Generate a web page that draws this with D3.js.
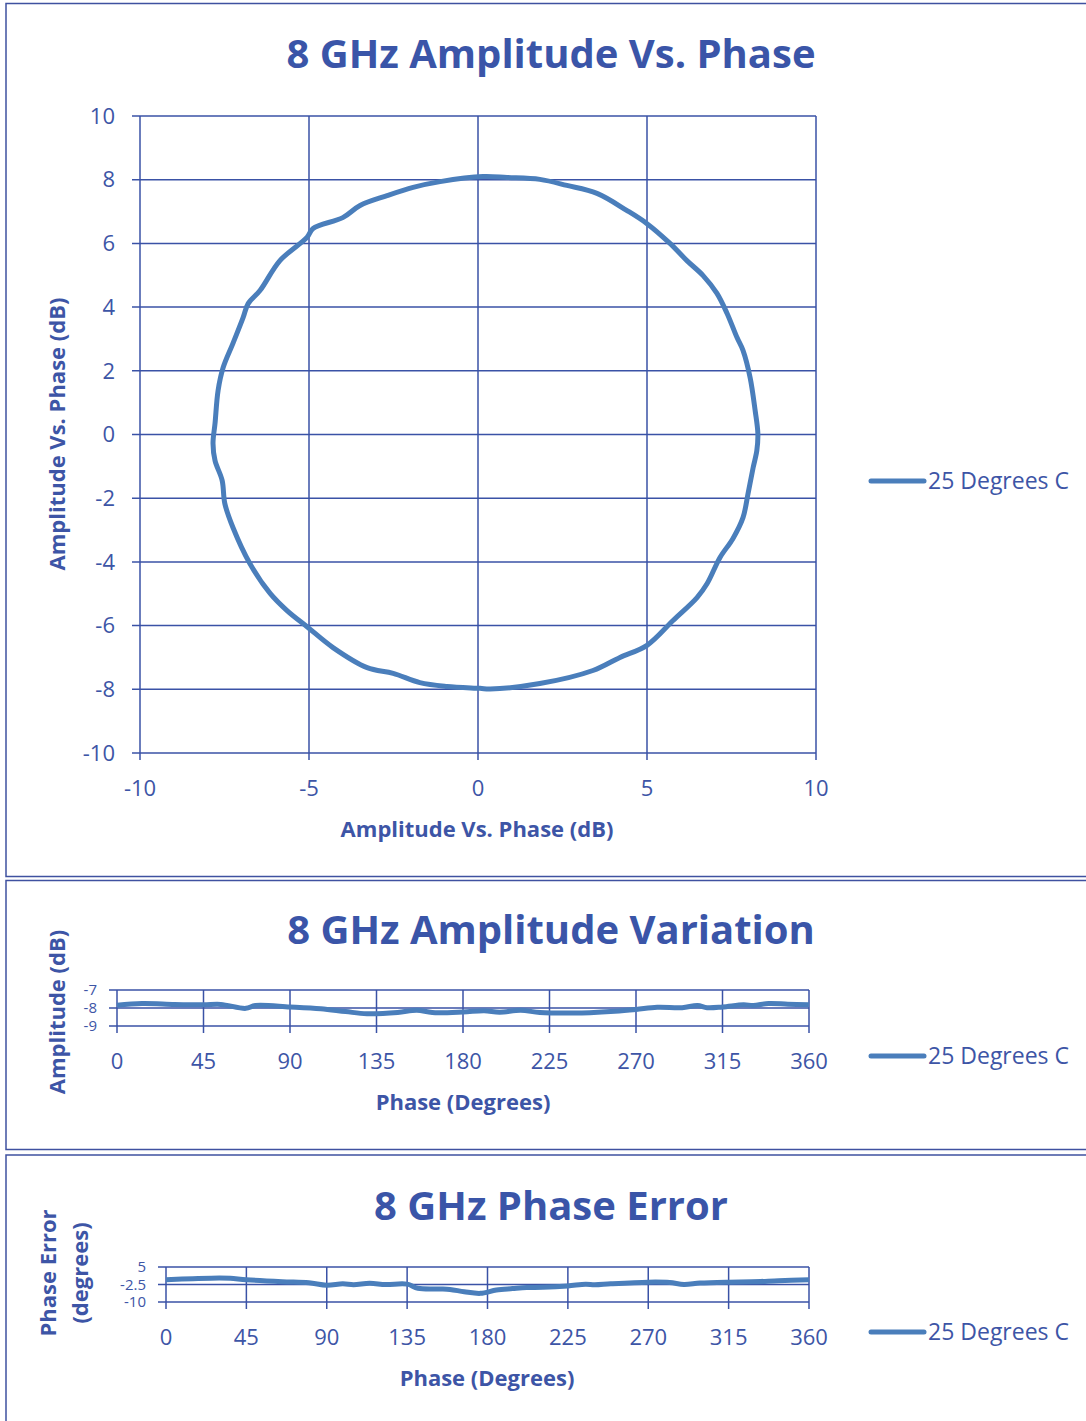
<!DOCTYPE html>
<html>
<head>
<meta charset="utf-8">
<script src="https://cdn.jsdelivr.net/npm/d3@7"></script>
<style>
  body { margin: 0; background: #fff; }
  svg { display: block; }
  text { font-family: "Open Sans", Lato, sans-serif; fill: #3d55a6; }
</style>
</head>
<body>
<div id="chart"></div>
<script>
// polar trace, x/y in dB, walked round from the right edge
const polarX = [8.28, 8.2, 8.05, 7.84, 7.66, 7.37, 7.07, 6.66, 6.18, 5.68, 5.0, 4.41, 3.52, 2.63, 1.83, 0.86, 0.15,
  -1.12, -1.92, -2.69, -3.49, -4.0, -4.88, -5.06, -5.86, -6.45, -6.8, -6.95, -7.25, -7.54, -7.69, -7.78, -7.84,
  -7.78, -7.57, -7.49, -7.25, -6.75, -6.15, -5.65, -5.03, -4.29, -3.28, -2.51, -1.72, -0.92, 0.06,
  0.36, 1.83, 3.4, 4.2, 5.0, 5.77, 6.48, 6.78, 7.16, 7.54, 7.84, 7.99, 8.14, 8.25, 8.28];
const polarY = [0.03, 0.75, 1.79, 2.64, 3.05, 3.8, 4.43, 4.99, 5.46, 6.0, 6.62, 7.03, 7.57, 7.82, 8.01, 8.07, 8.1,
  7.94, 7.76, 7.5, 7.19, 6.81, 6.47, 6.19, 5.46, 4.52, 4.11, 3.67, 2.86, 2.1, 1.38, 0.35, -0.28,
  -0.82, -1.44, -2.17, -2.92, -4.05, -4.99, -5.53, -6.06, -6.69, -7.32, -7.5, -7.79, -7.91, -7.97,
  -7.99, -7.82, -7.41, -7.0, -6.62, -5.84, -5.12, -4.68, -3.86, -3.27, -2.61, -1.85, -1.04, -0.5, 0.03];

const ampPhase = [0, 13, 30, 45, 54, 67, 72, 90, 106, 119, 130, 146, 156, 164, 180, 191, 199, 210, 220, 238, 246, 259, 270, 281, 294, 302, 307, 315, 326, 331, 339, 349, 360];
const ampVals = [-7.85, -7.75, -7.8, -7.82, -7.8, -8.02, -7.86, -7.94, -8.04, -8.2, -8.32, -8.25, -8.12, -8.25, -8.22, -8.15, -8.23, -8.13, -8.25, -8.28, -8.26, -8.18, -8.08, -7.96, -7.98, -7.86, -7.98, -7.94, -7.82, -7.86, -7.75, -7.79, -7.82];

const errPhase = [0, 15, 30, 36, 45, 65, 80, 90, 99, 105, 114, 123, 135, 141, 153, 159, 167, 176, 185, 194, 202, 211, 225, 235, 240, 249, 270, 282, 290, 299, 315, 328, 343, 360];
const errVals = [-0.44, 0.0, 0.3, 0.15, -0.44, -1.3, -1.76, -2.8, -2.2, -2.6, -2.0, -2.5, -2.35, -4.1, -4.4, -4.6, -5.6, -6.3, -4.85, -4.26, -3.8, -3.7, -3.1, -2.35, -2.65, -2.2, -1.5, -1.65, -2.5, -1.9, -1.5, -1.35, -0.9, -0.44];

const polarTicksX = [-10, -5, 0, 5, 10];
const polarTicksY = [-10, -8, -6, -4, -2, 0, 2, 4, 6, 8, 10];
const phaseTicks = [0, 45, 90, 135, 180, 225, 270, 315, 360];
const ampTicks = [-9, -8, -7];
const errTicks = [-10, -2.5, 5];
const seriesName = '25 Degrees C';

const W = 1086, H = 1421;
const GRID = '#3a52a6', LINE = '#4a7ebb', TITLE = '#3a55a8';

const svg = d3.select('#chart').append('svg')
    .attr('width', W)
    .attr('height', H);

// panel frames
function frame(y0, y1) {
    svg.append('rect')
        .attr('x', 6).attr('y', y0)
        .attr('width', W + 10).attr('height', y1 - y0)
        .attr('fill', 'none')
        .attr('stroke', '#3f51a0')
        .attr('stroke-width', 1.5);
}
frame(3.5, 876.5);
frame(880.5, 1149.5);
frame(1155, H + 10);

function gridAxes(g, x, y, xTicks, yTicks, fs, gap) {
    const xr = x.range(), yr = y.range();
    g.append('g').selectAll('line').data(yTicks).enter().append('line')
        .attr('x1', xr[0] - 8).attr('x2', xr[1])
        .attr('y1', d => y(d)).attr('y2', d => y(d))
        .attr('stroke', GRID).attr('stroke-width', 1.5);
    g.append('g').selectAll('line').data(xTicks).enter().append('line')
        .attr('x1', d => x(d)).attr('x2', d => x(d))
        .attr('y1', yr[1]).attr('y2', yr[0] + 7)
        .attr('stroke', GRID).attr('stroke-width', 1.5);
    g.append('g').selectAll('text').data(yTicks).enter().append('text')
        .attr('x', xr[0] - gap).attr('y', d => y(d))
        .attr('dy', '0.35em')
        .attr('text-anchor', 'end')
        .style('font-size', fs + 'px')
        .text(d => d);
}

function xLabels(g, x, ticks, yPos) {
    g.append('g').selectAll('text').data(ticks).enter().append('text')
        .attr('x', d => x(d)).attr('y', yPos).attr('dy', '0.35em')
        .attr('text-anchor', 'middle')
        .style('font-size', '22px')
        .text(d => d);
}

function legend(yPos) {
    svg.append('line')
        .attr('x1', 871).attr('x2', 924)
        .attr('y1', yPos).attr('y2', yPos)
        .attr('stroke', LINE).attr('stroke-width', 5)
        .attr('stroke-linecap', 'round');
    svg.append('text')
        .attr('x', 928).attr('y', yPos).attr('dy', '0.35em')
        .style('font-size', '23px')
        .text(seriesName);
}

function title(txt, cx, cy) {
    svg.append('text')
        .attr('x', cx).attr('y', cy).attr('dy', '0.35em')
        .attr('text-anchor', 'middle')
        .style('font-size', '40px').style('font-weight', 'bold')
        .style('fill', TITLE)
        .text(txt);
}

function axisLabel(txt, x, y, rot) {
    svg.append('text')
        .attr('transform', `translate(${x},${y})` + (rot ? ' rotate(-90)' : ''))
        .attr('dy', '0.35em')
        .attr('text-anchor', 'middle')
        .style('font-size', '22px').style('font-weight', 'bold')
        .text(txt);
}

// ---- chart 1: amplitude vs phase (polar trace) ----
{
    const x = d3.scaleLinear().domain([-10, 10]).range([140, 816]);
    const y = d3.scaleLinear().domain([-10, 10]).range([753, 116]);
    const g = svg.append('g');
    gridAxes(g, x, y, polarTicksX, polarTicksY, 22, 25);
    xLabels(g, x, polarTicksX, 788);
    const pts = polarX.map((v, i) => [v, polarY[i]]);
    const line = d3.line()
        .x(d => x(d[0]))
        .y(d => y(d[1]))
        .curve(d3.curveCatmullRomClosed);
    g.append('path')
        .attr('d', line(pts.slice(0, -1)))
        .attr('fill', 'none')
        .attr('stroke', LINE).attr('stroke-width', 5)
        .attr('stroke-linejoin', 'round');
    title('8 GHz Amplitude Vs. Phase', 551, 54);
    axisLabel('Amplitude Vs. Phase (dB)', 477, 829, false);
    axisLabel('Amplitude Vs. Phase (dB)', 57, 434, true);
    legend(481);
}

// ---- chart 2: amplitude variation ----
{
    const x = d3.scaleLinear().domain([0, 360]).range([117, 809]);
    const y = d3.scaleLinear().domain([-9, -7]).range([1026, 990]);
    const g = svg.append('g');
    gridAxes(g, x, y, phaseTicks, ampTicks, 15, 20);
    xLabels(g, x, phaseTicks, 1061);
    const line = d3.line()
        .x((d, i) => x(ampPhase[i]))
        .y(d => y(d))
        .curve(d3.curveCatmullRom);
    g.append('path')
        .attr('d', line(ampVals))
        .attr('fill', 'none')
        .attr('stroke', LINE).attr('stroke-width', 5)
        .attr('stroke-linejoin', 'round');
    title('8 GHz Amplitude Variation', 551, 930);
    axisLabel('Phase (Degrees)', 463, 1102, false);
    axisLabel('Amplitude (dB)', 57, 1012, true);
    legend(1056);
}

// ---- chart 3: phase error ----
{
    const x = d3.scaleLinear().domain([0, 360]).range([166, 809]);
    const y = d3.scaleLinear().domain([-10, 5]).range([1302, 1267]);
    const g = svg.append('g');
    gridAxes(g, x, y, phaseTicks, errTicks, 15, 20);
    xLabels(g, x, phaseTicks, 1337);
    const line = d3.line()
        .x((d, i) => x(errPhase[i]))
        .y(d => y(d))
        .curve(d3.curveCatmullRom);
    g.append('path')
        .attr('d', line(errVals))
        .attr('fill', 'none')
        .attr('stroke', LINE).attr('stroke-width', 5)
        .attr('stroke-linejoin', 'round');
    title('8 GHz Phase Error', 551, 1206);
    axisLabel('Phase (Degrees)', 487, 1378, false);
    axisLabel('Phase Error', 48, 1273, true);
    axisLabel('(degrees)', 80, 1273, true);
    legend(1332);
}
</script>
</body>
</html>
